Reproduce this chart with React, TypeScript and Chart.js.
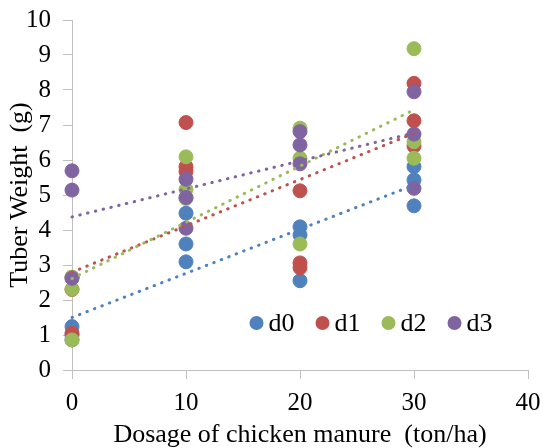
import React, { useEffect, useRef } from "react";
import { Chart, registerables } from "chart.js";

Chart.register(...registerables);

// ---- data ----
const doses = [0, 10, 20, 30];
const seriesNames = ["d0", "d1", "d2", "d3"];
const d0Values = [
  [1.24, 1.0, 0.86],
  [4.48, 3.6, 3.09],
  [4.09, 3.86, 2.55],
  [5.81, 5.43, 4.69],
];
const d1Values = [
  [1.05, 2.65, 2.3],
  [7.07, 5.81, 5.67],
  [5.12, 3.06, 2.92],
  [8.19, 7.12, 6.4],
];
const d2Values = [
  [2.31, 0.86, 2.65],
  [6.09, 5.16, 4.9],
  [6.91, 6.05, 3.6],
  [9.18, 6.52, 6.05],
];
const d3Values = [
  [2.62, 5.14, 5.69],
  [5.45, 4.93, 4.05],
  [6.81, 6.43, 5.89],
  [7.95, 6.74, 5.19],
];
const xTicks = [0, 10, 20, 30, 40];
const yTicks = [0, 1, 2, 3, 4, 5, 6, 7, 8, 9, 10];
const xTitle = "Dosage of chicken manure  (ton/ha)";
const yTitle = "Tuber Weight  (g)";

const colors = ["#4F81BD", "#C0504D", "#9BBB59", "#8064A2"];
const FONT = "'Liberation Serif', 'Times New Roman', serif";

function toPoints(vals: number[][]) {
  return doses.flatMap((d, i) => vals[i].map((v) => ({ x: d, y: v })));
}

function fit(points: { x: number; y: number }[]) {
  const n = points.length;
  const mx = points.reduce((s, p) => s + p.x, 0) / n;
  const my = points.reduce((s, p) => s + p.y, 0) / n;
  let sxy = 0;
  let sxx = 0;
  points.forEach((p) => {
    sxy += (p.x - mx) * (p.y - my);
    sxx += (p.x - mx) * (p.x - mx);
  });
  const b = sxy / sxx;
  const a = my - b * mx;
  const x0 = Math.min(...doses);
  const x1 = Math.max(...doses);
  return [
    { x: x0, y: a + b * x0 },
    { x: x1, y: a + b * x1 },
  ];
}

const legendPlugin = {
  id: "insideLegend",
  afterDatasetsDraw(chart: any) {
    const { ctx, chartArea } = chart;
    ctx.save();
    ctx.font = `26px ${FONT}`;
    ctx.textBaseline = "middle";
    ctx.textAlign = "left";
    let cx = chartArea.left + 184.5;
    const cy = chartArea.bottom - 47;
    seriesNames.forEach((name, i) => {
      ctx.fillStyle = colors[i];
      ctx.beginPath();
      ctx.arc(cx, cy, 7, 0, Math.PI * 2);
      ctx.fill();
      ctx.fillStyle = "#000";
      ctx.fillText(name, cx + 12, cy + 1);
      cx += 12 + ctx.measureText(name).width + 28;
    });
    ctx.restore();
  },
};

export default function App() {
  const ref = useRef<HTMLCanvasElement | null>(null);

  useEffect(() => {
    if (!ref.current) return;
    const all = [d0Values, d1Values, d2Values, d3Values];
    const pointSets = all.map(toPoints);

    const scatterSets = pointSets.map((pts, i) => ({
      type: "scatter" as const,
      label: seriesNames[i],
      data: pts,
      backgroundColor: colors[i],
      borderColor: colors[i],
      pointRadius: 7,
      pointBorderWidth: 1,
      pointHoverRadius: 7,
      clip: false,
      order: 10 - i,
    }));

    const trendSets = pointSets.map((pts, i) => ({
      type: "line" as const,
      label: seriesNames[i] + " trend",
      data: fit(pts),
      borderColor: colors[i],
      borderWidth: 3,
      borderDash: [0.5, 7.5],
      borderCapStyle: "round" as const,
      pointRadius: 0,
      fill: false,
      clip: false,
      order: 4 - i,
    }));

    const chart = new Chart(ref.current, {
      type: "scatter",
      data: { datasets: [...scatterSets, ...trendSets] as any },
      options: {
        animation: false,
        responsive: true,
        maintainAspectRatio: false,
        layout: { padding: { top: 20, right: 15, left: 0, bottom: 0 } },
        plugins: {
          legend: { display: false },
          tooltip: { enabled: false },
        },
        font: { family: FONT },
        scales: {
          x: {
            type: "linear",
            min: 0,
            max: 40,
            afterBuildTicks: (s: any) => {
              s.ticks = xTicks.map((v) => ({ value: v }));
            },
            afterFit: (s: any) => {
              s.height = 78;
              s.paddingLeft = 0;
              s.paddingRight = 0;
            },
            ticks: {
              color: "#000",
              font: { family: FONT, size: 25 },
              padding: 9,
              maxRotation: 0,
            },
            grid: {
              drawOnChartArea: false,
              drawTicks: true,
              tickLength: 9,
              color: "#BFBFBF",
              lineWidth: 1,
            },
            border: { color: "#BFBFBF", width: 1 },
            title: {
              display: true,
              text: xTitle,
              color: "#000",
              font: { family: FONT, size: 26, lineHeight: 1 },
              padding: { top: 0, bottom: 0 },
            },
          },
          y: {
            type: "linear",
            min: 0,
            max: 10,
            afterBuildTicks: (s: any) => {
              s.ticks = yTicks.map((v) => ({ value: v }));
            },
            afterFit: (s: any) => {
              s.width = 72;
              s.paddingTop = 0;
              s.paddingBottom = 0;
            },
            ticks: {
              color: "#000",
              font: { family: FONT, size: 25 },
              padding: 12,
            },
            grid: {
              drawOnChartArea: false,
              drawTicks: true,
              tickLength: 9,
              color: "#BFBFBF",
              lineWidth: 1,
            },
            border: { color: "#BFBFBF", width: 1 },
            title: {
              display: true,
              text: yTitle,
              color: "#000",
              font: { family: FONT, size: 26 },
              padding: { top: 5, bottom: 0 },
            },
          },
        },
      } as any,
      plugins: [legendPlugin],
    });
    return () => chart.destroy();
  }, []);

  return (
    <div style={{ position: "absolute", left: 0, top: 0, width: 543, height: 448 }}>
      <canvas ref={ref} />
    </div>
  );
}
